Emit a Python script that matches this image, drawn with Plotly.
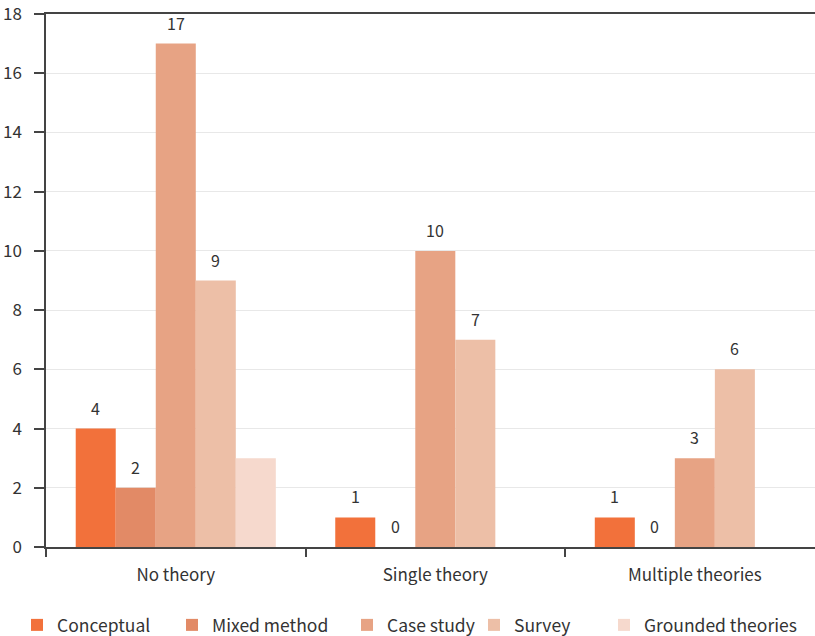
import plotly.graph_objects as go

categories = ["No theory", "Single theory", "Multiple theories"]
series_names = ["Conceptual", "Mixed method", "Case study", "Survey", "Grounded theories"]
conceptual = [4, 1, 1]
mixed_method = [2, 0, 0]
case_study = [17, 10, 3]
survey = [9, 7, 6]
grounded_theories = [3, None, None]
series_values = [conceptual, mixed_method, case_study, survey, grounded_theories]
show_labels = [True, True, True, True, False]
colors = ["#F2713B", "#E28A66", "#E7A384", "#EDBFA7", "#F6D9CD"]
y_ticks = [0, 2, 4, 6, 8, 10, 12, 14, 16, 18]

FONT = "Noto Sans CJK SC"
# body margin is reset to 0, so figure coords == page coords
W, H = 815, 636
L, T, B = 46, 14, 89
legend_text_x = [58, 213, 388, 515, 645]  # x where each legend text starts
legend_center_y = 625

fig = go.Figure()
for k, (name, vals, col) in enumerate(zip(series_names, series_values, colors)):
    lg = "legend" if k == 0 else f"legend{k + 1}"
    fig.add_trace(go.Bar(x=categories, y=vals, name=name, legend=lg, showlegend=True,
                         marker=dict(color=col, line=dict(width=0))))

bar_px = 40
n = len(series_names)
for i, vals in enumerate(series_values):
    if not show_labels[i]:
        continue
    for cat, v in zip(categories, vals):
        if v is None:
            continue
        fig.add_annotation(x=cat, y=v, text=str(v), showarrow=False, yanchor="bottom",
                           xshift=(i - (n - 1) / 2) * bar_px, yshift=7,
                           font=dict(family=FONT, size=16, color="#333333"))

legends = {}
for k, tx in enumerate(legend_text_x):
    key = "legend" if k == 0 else f"legend{k + 1}"
    legends[key] = dict(orientation="h", xref="container", yref="container",
                        x=(tx - 41) / W, xanchor="left",
                        y=1 - legend_center_y / H, yanchor="middle", bgcolor="rgba(0,0,0,0)",
                        font=dict(family=FONT, size=17.5, color="#333333"),
                        itemclick=False, itemdoubleclick=False)

fig.update_layout(
    width=W, height=H, showlegend=True,
    margin=dict(l=L, r=0, t=T, b=B, autoexpand=False),
    paper_bgcolor="white", plot_bgcolor="white",
    barmode="group", bargap=0.229, bargroupgap=0,
    font=dict(family=FONT, size=17, color="#333333"),
    xaxis=dict(range=[-0.5, 2.463], tickson="boundaries", ticks="outside", ticklen=8,
               tickcolor="#444444", tickwidth=1.5, showline=True, linecolor="#444444",
               linewidth=1.5, mirror=True, showgrid=False, tickfont=dict(size=17),
               ticklabelstandoff=12, automargin=False),
    yaxis=dict(range=[0, 18], tickvals=y_ticks, ticks="outside", ticklen=10,
               tickcolor="#444444", tickwidth=1.5, showline=True, linecolor="#444444",
               linewidth=1.5, showgrid=True, gridcolor="#E8E8E8", gridwidth=1,
               zeroline=False, tickfont=dict(size=17), ticklabelstandoff=9,
               ticklabeloverflow="allow", automargin=False),
    **legends,
)
fig.write_html("out.html", config={"displayModeBar": False},
               post_script="document.body.style.margin='0';")
